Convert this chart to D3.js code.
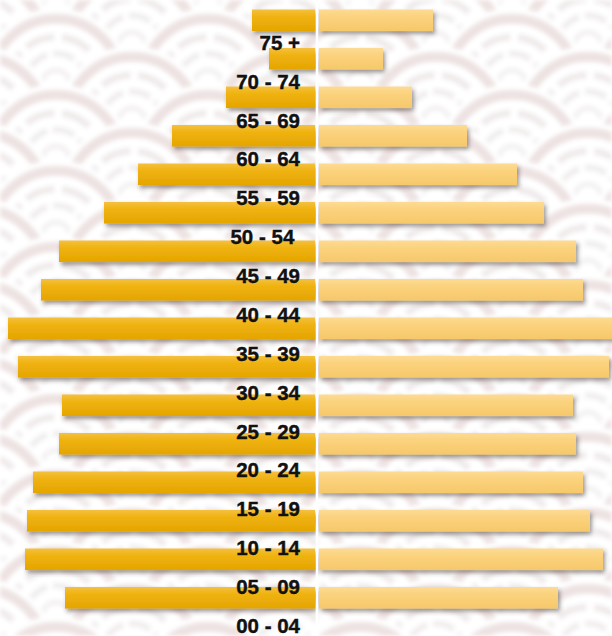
<!DOCTYPE html>
<html>
<head>
<meta charset="utf-8">
<script src="https://cdn.jsdelivr.net/npm/d3@7"></script>
<style>
  html, body { margin: 0; padding: 0; background: #fff; }
  svg { display: block; }
</style>
</head>
<body>
<svg id="chart" width="612" height="636"></svg>
<script>
// Age groups, top to bottom
const ageGroups = ["75 +", "70 - 74", "65 - 69", "60 - 64", "55 - 59", "50 - 54 ", "45 - 49", "40 - 44",
                   "35 - 39", "30 - 34", "25 - 29", "20 - 24", "15 - 19", "10 - 14", "05 - 09", "00 - 04"];
// Left series (darker gold) and right series (lighter gold)
const leftValues  = [6.3, 4.6, 8.9, 14.3, 17.7, 21.1, 25.6, 27.4, 30.7, 29.7, 25.3, 25.6, 28.2, 28.8, 29.0, 25.0];
const rightValues = [11.4, 6.4, 9.3, 14.8, 19.8, 22.5, 25.7, 26.4, 30.0, 29.0, 25.4, 25.7, 26.4, 27.1, 28.4, 23.9];

const W = 612, H = 636;
const cx = 317, gap = 2;
const svg = d3.select("#chart");
const defs = svg.append("defs");

// --- background seigaiha pattern ---
const r = 76;
const pat = defs.append("pattern").attr("id", "waves").attr("patternUnits", "userSpaceOnUse")
  .attr("width", 2 * r).attr("height", r).attr("x", -20).attr("y", -30);
const rows = [-r, -r / 2, 0, r / 2, r, 1.5 * r, 2 * r];
rows.forEach((yy, i) => {
  const xs = (i % 2 === 0) ? [0, 2 * r] : [r];
  xs.forEach(xx => {
    const g = pat.append("g").attr("transform", `translate(${xx},${yy})`);
    g.append("circle").attr("r", r).attr("fill", "#ffffff");
    g.append("circle").attr("r", r * 0.86).attr("fill", "none").attr("stroke", "#eee2e2").attr("stroke-width", 10);
    g.append("circle").attr("r", r * 0.62).attr("fill", "none").attr("stroke", "#f0ebeb").attr("stroke-width", 7)
      .attr("stroke-dasharray", "30 8");
    g.append("circle").attr("r", r * 0.40).attr("fill", "none").attr("stroke", "#f1eded").attr("stroke-width", 6)
      .attr("stroke-dasharray", "22 6");
    g.append("circle").attr("r", r * 0.18).attr("fill", "none").attr("stroke", "#f3f0f0").attr("stroke-width", 5);
  });
});
const bl = defs.append("filter").attr("id", "soft");
bl.append("feGaussianBlur").attr("stdDeviation", 2);
svg.append("rect").attr("width", W).attr("height", H).attr("fill", "url(#waves)").attr("filter", "url(#soft)");

// --- gradients & shadow ---
const gL = defs.append("linearGradient").attr("id", "gl").attr("x1", 0).attr("y1", 0).attr("x2", 0).attr("y2", 1);
gL.append("stop").attr("offset", "0%").attr("stop-color", "#f4c040");
gL.append("stop").attr("offset", "35%").attr("stop-color", "#efb20f");
gL.append("stop").attr("offset", "100%").attr("stop-color", "#e4a500");
const gR = defs.append("linearGradient").attr("id", "gr").attr("x1", 0).attr("y1", 0).attr("x2", 0).attr("y2", 1);
gR.append("stop").attr("offset", "0%").attr("stop-color", "#fddb94");
gR.append("stop").attr("offset", "35%").attr("stop-color", "#fbd27d");
gR.append("stop").attr("offset", "100%").attr("stop-color", "#f6c86a");
const sh = defs.append("filter").attr("id", "shadow").attr("x", "-10%").attr("y", "-50%").attr("width", "120%").attr("height", "220%");
sh.append("feDropShadow").attr("dx", 2).attr("dy", 3).attr("stdDeviation", 2.2)
  .attr("flood-color", "#3a3030").attr("flood-opacity", 0.5);

// --- scales ---
const y = d3.scaleBand().domain(ageGroups).range([1.03, 617.03]).paddingInner(0.44).paddingOuter(0.22);
const xLeft = d3.scaleLinear().domain([0, 31]).range([cx - gap, cx - gap - 310]);
const xRight = d3.scaleLinear().domain([0, 31]).range([cx + gap, cx + gap + 310]);
const yLabel = d3.scalePoint().domain(ageGroups).range([42.5, 625.5]);

const bars = svg.append("g");
bars.selectAll("rect.left").data(ageGroups).join("rect").attr("class", "left")
  .attr("x", (d, i) => xLeft(leftValues[i]))
  .attr("y", d => y(d))
  .attr("width", (d, i) => xLeft(0) - xLeft(leftValues[i]))
  .attr("height", y.bandwidth())
  .attr("fill", "url(#gl)")
  .attr("filter", "url(#shadow)");
bars.selectAll("rect.right").data(ageGroups).join("rect").attr("class", "right")
  .attr("x", xRight(0))
  .attr("y", d => y(d))
  .attr("width", (d, i) => xRight(rightValues[i]) - xRight(0))
  .attr("height", y.bandwidth())
  .attr("fill", "url(#gr)")
  .attr("filter", "url(#shadow)");

// centre line
svg.append("line").attr("x1", cx).attr("x2", cx).attr("y1", 0).attr("y2", H)
  .attr("stroke", "#ffffff").attr("stroke-width", 2.5);

// labels
svg.append("g").selectAll("text").data(ageGroups).join("text")
  .attr("x", 300)
  .attr("y", d => yLabel(d))
  .attr("dy", "0.36em")
  .attr("text-anchor", "end")
  .style("white-space", "pre")
  .attr("font-family", "'Liberation Sans', Arial, sans-serif")
  .attr("font-weight", "bold")
  .attr("font-size", "20.5px")
  .attr("fill", "#111")
  .attr("stroke", "#111")
  .attr("stroke-width", 0.4)
  .text(d => d);
</script>
</body>
</html>
